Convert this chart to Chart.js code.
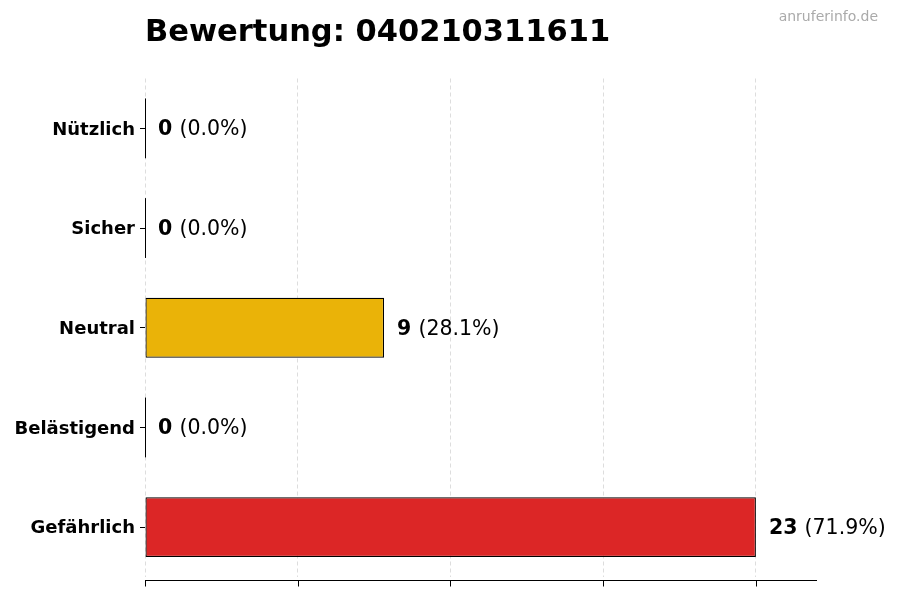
<!DOCTYPE html>
<html>
<head>
<meta charset="utf-8">
<script src="https://cdn.jsdelivr.net/npm/chart.js@4"></script>
<style>
  html, body { margin: 0; padding: 0; background: #fff; }
  #wrap { width: 900px; height: 600px; position: relative; }
</style>
</head>
<body>
<div id="wrap"><canvas id="c" width="900" height="600"></canvas></div>
<script>
const categories = ["Nützlich", "Sicher", "Neutral", "Belästigend", "Gefährlich"];
const counts = [0, 0, 9, 0, 23];
const percents = ["0.0%", "0.0%", "28.1%", "0.0%", "71.9%"];
const barColors = ["#2e9e4f", "#3b82f6", "#eab308", "#f97316", "#dc2626"];
const titleText = "Bewertung: 040210311611";
const watermark = "anruferinfo.de";

const maxCount = Math.max(...counts);
const tickValues = [0, 1, 2, 3, 4].map(i => maxCount * i / 4);

const FONT = "'DejaVu Sans', sans-serif";

const labelPlugin = {
  id: 'labels',
  afterDatasetsDraw(chart) {
    const ctx = chart.ctx;
    const meta = chart.getDatasetMeta(0);
    const xs = chart.scales.x;
    const area = chart.chartArea;
    ctx.save();
    // x axis line and tick marks (drawn slightly below the plot area)
    const axY = area.bottom + 3.5;
    ctx.strokeStyle = '#000';
    ctx.lineWidth = 1;
    ctx.beginPath();
    ctx.moveTo(area.left, axY);
    ctx.lineTo(area.right, axY);
    tickValues.forEach(v => {
      const px = Math.round(xs.getPixelForValue(v)) + 0.5;
      ctx.moveTo(px, axY);
      ctx.lineTo(px, axY + 6);
    });
    ctx.stroke();

    meta.data.forEach((bar, i) => {
      const x0 = xs.getPixelForValue(0);
      if (counts[i] === 0) {
        ctx.strokeStyle = '#000';
        ctx.lineWidth = 1;
        ctx.beginPath();
        ctx.moveTo(x0 + 0.5, bar.y - bar.height / 2);
        ctx.lineTo(x0 + 0.5, bar.y + bar.height / 2);
        ctx.stroke();
      }
      const x = bar.x + 13;
      const y = bar.y + 1.5;
      ctx.textBaseline = 'middle';
      ctx.textAlign = 'left';
      ctx.fillStyle = '#000';
      ctx.font = "bold 20.5px " + FONT;
      const s1 = String(counts[i]);
      ctx.fillText(s1, x, y);
      const w1 = ctx.measureText(s1 + " ").width;
      ctx.font = "20.5px " + FONT;
      ctx.fillText("(" + percents[i] + ")", x + w1, y);
    });
    ctx.restore();
  },
  afterDraw(chart) {
    const ctx = chart.ctx;
    ctx.save();
    ctx.fillStyle = '#000';
    ctx.font = "bold 30.5px " + FONT;
    ctx.textBaseline = 'alphabetic';
    ctx.textAlign = 'left';
    ctx.fillText(titleText, 145, 41);
    ctx.fillStyle = '#aaaaaa';
    ctx.font = "14px " + FONT;
    ctx.textAlign = 'right';
    ctx.textBaseline = 'middle';
    ctx.fillText(watermark, 878, 17);
    ctx.restore();
  }
};

new Chart(document.getElementById('c'), {
  type: 'bar',
  data: {
    labels: categories,
    datasets: [{
      data: counts,
      backgroundColor: barColors,
      borderColor: '#000',
      borderWidth: 1.2,
      borderSkipped: false,
      barPercentage: 0.6,
      categoryPercentage: 1.0
    }]
  },
  options: {
    indexAxis: 'y',
    responsive: false,
    animation: false,
    devicePixelRatio: 1,
    layout: { padding: { left: 0, right: 83, top: 78.5, bottom: 0 } },
    plugins: { legend: { display: false }, tooltip: { enabled: false }, title: { display: false } },
    scales: {
      x: {
        min: 0,
        max: maxCount * 1.1,
        afterBuildTicks(scale) { scale.ticks = tickValues.map(v => ({ value: v })); },
        afterFit(scale) { scale.height = 23; },
        ticks: { display: false },
        grid: { color: '#dddddd', lineWidth: 1, drawTicks: false },
        border: { display: false, dash: [4, 3] }
      },
      y: {
        afterFit(scale) { scale.width = 145; },
        ticks: { color: '#000', font: { family: FONT, weight: 'bold', size: 18 }, padding: 5, labelOffset: 1.5 },
        grid: { offset: false, drawOnChartArea: false, tickLength: 5, tickColor: '#000' },
        border: { display: false }
      }
    }
  },
  plugins: [labelPlugin]
});
</script>
</body>
</html>
